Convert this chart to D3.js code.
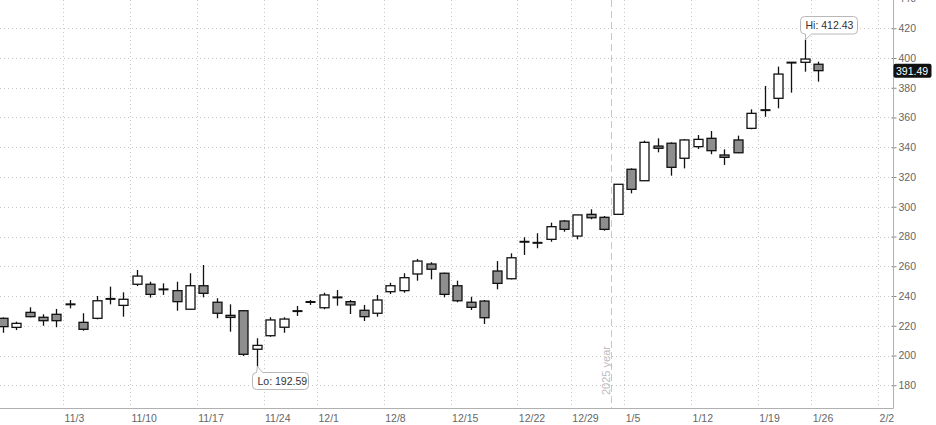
<!DOCTYPE html>
<html><head><meta charset="utf-8">
<script src="https://cdn.jsdelivr.net/npm/d3@7"></script>
<style>
html,body{margin:0;padding:0;background:#fff;}
svg{display:block;font-family:"Liberation Sans",Arial,sans-serif;}
</style></head><body>
<svg id="chart" width="936" height="425"></svg>
<script>
// ---- data ----
const dates = ["10/27","10/28","10/29","10/30","10/31",
  "11/3","11/4","11/5","11/6","11/7","11/10","11/11","11/12","11/13","11/14",
  "11/17","11/18","11/19","11/20","11/21","11/24","11/25","11/26","11/28",
  "12/1","12/2","12/3","12/4","12/5","12/8","12/9","12/10","12/11","12/12",
  "12/15","12/16","12/17","12/18","12/19","12/22","12/23","12/24","12/26",
  "12/29","12/30","12/31","1/2","1/5","1/6","1/7","1/8","1/9",
  "1/12","1/13","1/14","1/15","1/16","1/20","1/21","1/22","1/23","1/26"];
const openV  = [225.0,218.9,229.0,225.7,227.7, 234.2,222.3,225.0,238.0,233.7, 247.9,247.9,244.4,243.6,231.1,
  246.9,235.8,227.0,230.1,204.2, 213.3,219.0,229.8,235.9, 232.1,239.0,236.2,230.4,228.4,
  242.9,243.6,254.8,261.5,255.3, 246.9,235.8,236.6,256.8,251.6, 276.4,275.7,278.1,290.4,
  280.3,294.9,292.9,294.9, 325.2,317.5,340.8,342.7,332.6, 340.4,346.0,334.8,344.9,352.7,
  364.9,372.9,396.8,397.1,395.8];
const highV  = [225.6,222.7,232.4,227.7,231.3, 237.3,228.4,240.0,246.3,242.5, 257.5,249.6,248.5,249.6,255.3,
  260.8,238.5,234.4,230.6,211.6, 225.7,225.7,233.3,237.3, 242.2,244.0,237.3,234.0,240.7,
  248.9,255.3,264.9,262.7,255.7, 250.3,239.5,237.3,263.5,268.7, 279.5,282.2,289.3,291.1,
  294.5,298.3,293.8,315.3, 325.8,344.4,346.0,343.3,345.5, 348.2,350.9,338.6,347.8,365.5,
  381.2,394.2,397.2,412.43,397.5];
const lowV   = [215.3,217.1,225.7,220.0,219.0, 231.7,216.7,224.3,234.4,226.1, 246.7,238.9,240.7,230.1,230.8,
  239.1,225.0,216.0,199.7,192.59, 212.6,215.3,226.6,234.0, 231.1,233.5,227.9,223.2,226.1,
  241.3,242.2,250.3,251.2,239.1, 235.8,230.6,221.2,244.5,251.2, 267.6,272.1,276.5,283.2,
  278.1,291.6,283.9,294.5, 309.0,317.3,336.6,320.9,325.8, 338.8,335.3,328.1,336.0,352.1,
  360.5,366.2,376.7,390.8,384.1];
const closeV = [219.4,221.6,226.1,223.4,223.4, 234.6,217.6,236.8,238.1,237.8, 253.4,241.1,244.5,236.2,246.9,
  241.8,228.4,225.6,200.8,206.8, 223.9,224.5,229.9,236.0, 240.7,239.1,234.0,226.1,237.3,
  246.9,252.3,263.5,258.0,241.1, 236.8,232.4,225.4,248.5,265.7, 276.5,275.8,286.6,284.8,
  294.5,292.6,284.8,315.1, 311.7,343.3,339.3,326.5,344.9, 345.3,337.7,333.2,336.3,362.8,
  365.0,389.2,397.0,399.3,391.49];
const futureDates = ["1/27","1/28","1/29","1/30","2/2"];
const xTickLabels = ["11/3","11/10","11/17","11/24","12/1","12/8","12/15","12/22","12/29","1/5","1/12","1/19","1/26","2/2"];
const xTickDates  = ["11/3","11/10","11/17","11/24","12/1","12/8","12/15","12/22","12/29","1/5","1/12","1/20","1/26","2/2"];
const yTicks = [180,200,220,240,260,280,300,320,340,360,380,400,420,440];
const yearBreakDate = "1/2";
const yearLabel = "2025 year";
const lastValue = 391.49;

// ---- layout ----
const W = 936, H = 425, plotRight = 893, axisY = 408;
const svg = d3.select("#chart");
const allDates = dates.concat(futureDates);
const x = d3.scalePoint().domain(allDates).range([3, 3 + (allDates.length - 1) * 13.36]);
const step = x.step();
const xEdge = x.copy().range(x.range().map(v => v - step / 2));
const y = d3.scaleLinear().domain([400, 200]).range([58, 355.5]);

const data = dates.map((d, i) => ({d, o: openV[i], h: highV[i], l: lowV[i], c: closeV[i]}));

// grid
const grid = svg.append("g").attr("shape-rendering", "crispEdges");
grid.selectAll("line.hg").data(yTicks).join("line")
  .attr("x1", 0).attr("x2", plotRight)
  .attr("y1", d => Math.round(y(d)) + 0.5).attr("y2", d => Math.round(y(d)) + 0.5)
  .attr("stroke", "#c8c8c8").attr("stroke-dasharray", "1,3");
grid.selectAll("line.vg").data(xTickDates).join("line")
  .attr("x1", d => Math.round(xEdge(d)) + 0.5).attr("x2", d => Math.round(xEdge(d)) + 0.5)
  .attr("y1", 0).attr("y2", axisY)
  .attr("stroke", "#c8c8c8").attr("stroke-dasharray", "1,3");

// year break
const yb = Math.round(xEdge(yearBreakDate)) + 0.5;
svg.append("line").attr("x1", yb).attr("x2", yb).attr("y1", 0).attr("y2", axisY)
  .attr("stroke", "#c8c8c8").attr("stroke-dasharray", "7,4").attr("shape-rendering", "crispEdges");
svg.append("text").attr("transform", `translate(${yb - 2},${395}) rotate(-90)`)
  .attr("font-size", 11).attr("fill", "#bdbdbd").text(yearLabel);

// axes
const xAxis = svg.append("g").attr("transform", `translate(0,${axisY + 0.5})`)
  .call(d3.axisBottom(xEdge).tickValues(xTickDates).tickSize(0).tickPadding(6)
    .tickFormat(d => xTickLabels[xTickDates.indexOf(d)]));
xAxis.select(".domain").remove();
xAxis.selectAll("text").attr("text-anchor", "start").attr("x", 1)
  .attr("font-size", 10.5).attr("fill", "#666").attr("font-family", "Liberation Sans, Arial, sans-serif");
svg.append("line").attr("x1", 0).attr("x2", plotRight + 0.5).attr("y1", axisY + 0.5).attr("y2", axisY + 0.5)
  .attr("stroke", "#b0b0b0");

const yAxis = svg.append("g").attr("transform", `translate(${plotRight + 0.5},0)`)
  .call(d3.axisRight(y).tickValues(yTicks).tickSize(3).tickPadding(2));
yAxis.select(".domain").remove();
yAxis.selectAll(".tick line").attr("x1", -2).attr("stroke", "#888");
yAxis.selectAll("text").attr("font-size", 10.5).attr("fill", "#666")
  .attr("font-family", "Liberation Sans, Arial, sans-serif");
svg.append("line").attr("x1", plotRight + 0.5).attr("x2", plotRight + 0.5).attr("y1", 0).attr("y2", axisY + 0.5)
  .attr("stroke", "#b0b0b0");

// candles
const cg = svg.append("g");
const candle = cg.selectAll("g.c").data(data).join("g");
candle.append("line")
  .attr("x1", d => Math.round(x(d.d)) + 0.5).attr("x2", d => Math.round(x(d.d)) + 0.5)
  .attr("y1", d => y(d.h)).attr("y2", d => y(d.l))
  .attr("stroke", "#111").attr("stroke-width", 1.3);
candle.each(function(d) {
  const g = d3.select(this);
  const cx = Math.round(x(d.d)) + 0.5;
  const top = y(Math.max(d.o, d.c)), bot = y(Math.min(d.o, d.c));
  if (bot - top < 1.2) {
    g.append("line").attr("x1", cx - 5).attr("x2", cx + 5)
      .attr("y1", (top + bot) / 2).attr("y2", (top + bot) / 2)
      .attr("stroke", "#111").attr("stroke-width", 2);
  } else {
    g.append("rect").attr("x", cx - 4.5).attr("width", 9)
      .attr("y", top).attr("height", bot - top)
      .attr("fill", d.c >= d.o ? "#fff" : "#8e8e8e")
      .attr("stroke", "#111").attr("stroke-width", 1.3);
  }
});

// hi / lo callouts
function callout(px, py, x0, y0, w, h, tailTop, label) {
  const x1 = x0 + w, y1 = y0 + h, r = 4;
  let p;
  if (!tailTop) {
    p = `M${x0 + r},${y0}H${x1 - r}Q${x1},${y0} ${x1},${y0 + r}V${y1 - r}Q${x1},${y1} ${x1 - r},${y1}` +
        `H${x0 + 11}L${px},${py}L${x0 + 5},${y1}H${x0 + r}Q${x0},${y1} ${x0},${y1 - r}V${y0 + r}Q${x0},${y0} ${x0 + r},${y0}Z`;
  } else {
    p = `M${x0 + r},${y0}L${x0 + 4},${y0}L${px},${py}L${x0 + 10},${y0}H${x1 - r}Q${x1},${y0} ${x1},${y0 + r}V${y1 - r}` +
        `Q${x1},${y1} ${x1 - r},${y1}H${x0 + r}Q${x0},${y1} ${x0},${y1 - r}V${y0 + r}Q${x0},${y0} ${x0 + r},${y0}Z`;
  }
  svg.append("path").attr("d", p).attr("fill", "#fff").attr("stroke", "#b8b8b8");
  svg.append("text").attr("x", x0 + 5).attr("y", y0 + h / 2 + 4)
    .attr("font-size", 10.5).attr("fill", "#333").text(label);
}
const hiIdx = d3.maxIndex(highV), loIdx = d3.minIndex(lowV);
callout(Math.round(x(dates[hiIdx])) + 0.5, y(highV[hiIdx]), 800.5, 16.5, 57, 17.5, false, "Hi: " + highV[hiIdx].toFixed(2));
callout(Math.round(x(dates[loIdx])) + 0.5, y(lowV[loIdx]), 252.5, 372.5, 56, 17, true, "Lo: " + lowV[loIdx].toFixed(2));

// last value tag
const ly = y(lastValue);
svg.append("rect").attr("x", plotRight + 0.5).attr("y", ly - 7).attr("width", 38).attr("height", 14)
  .attr("rx", 2).attr("fill", "#111");
svg.append("text").attr("x", plotRight + 3).attr("y", ly + 4).attr("font-size", 10.5)
  .attr("fill", "#fff").text(lastValue.toFixed(2));
</script>
</body></html>
